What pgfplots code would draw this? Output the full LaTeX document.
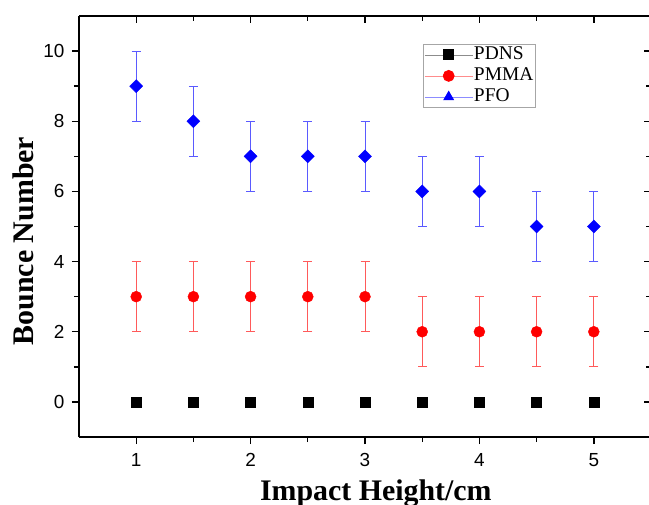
\documentclass[border=0pt]{standalone}
\usepackage{pgfplots}
\pgfplotsset{compat=1.18}
\usepackage{fontspec}
\setmainfont{Liberation Serif}
\newfontfamily\arial{Liberation Sans}
\definecolor{ebblue}{RGB}{90,90,255}
\definecolor{ebred}{RGB}{255,90,90}
\begin{document}
\begin{tikzpicture}
\begin{axis}[
  at={(0,0)}, anchor=south west,
  scale only axis, width=572bp, height=421bp,
  xmin=0.5, xmax=5.5, ymin=-1, ymax=11,
  xtick={1,2,3,4,5}, minor xtick={1.5,2.5,3.5,4.5},
  ytick={0,2,4,6,8,10}, minor ytick={1,3,5,7,9},
  xtick pos=bottom, ytick pos=left,
  tick align=outside,
  major tick length=7bp, minor tick length=5bp,
  every tick/.style={black, line width=1.4pt},
  axis line style={line width=1.6pt},
  axis x line*=bottom, axis y line*=left,
  xticklabel={\arial\fontsize{19}{21}\selectfont\pgfmathprintnumber[assume math mode=true]{\tick}},
  yticklabel={\arial\fontsize{19}{21}\selectfont\pgfmathprintnumber[assume math mode=true]{\tick}},
  xticklabel style={yshift=-6bp},
  yticklabel style={xshift=-4bp},
  xlabel={\bfseries Impact Height/cm}, ylabel={\bfseries Bounce Number},
  label style={font=\fontsize{30}{32}\selectfont},
  xlabel style={at={(axis description cs:0.519,0)}, anchor=base, yshift=-63bp},
  ylabel style={at={(axis description cs:-0.0804,0.4656)}, anchor=base, rotate=0},
  legend style={at={(axis description cs:0.6014,0.9335)}, anchor=north west,
    draw=gray!70, line width=0.8pt, font=\fontsize{19.5}{21}\selectfont, row sep=2bp,
    inner sep=1bp,
    nodes={inner sep=1bp, text height=13bp, text depth=4bp, line width=0.6pt}},
  legend cell align=left,
  legend image code/.code={\draw[#1, line width=0.6pt, opacity=0.45] (0bp,0bp) -- (48bp,0bp);
     \draw[#1, mark repeat=2, mark phase=2] plot coordinates {(0bp,0bp) (24bp,0bp) (48bp,0bp)};},
]
\addplot[only marks, mark=square*, mark size=5bp, black] coordinates {
(1,0) (1.5,0) (2,0) (2.5,0) (3,0) (3.5,0) (4,0) (4.5,0) (5,0)};
\addlegendentry{PDNS}
\addplot[only marks, mark=*, mark size=5.5bp, red,
  error bars/error bar style={draw=ebred, line width=0.9pt},
  error bars/error mark options={rotate=90, mark size=4.5bp, draw=ebred, line width=0.9pt},
  error bars/y dir=both, error bars/y explicit]
  coordinates {
(1,3) +- (0,1) (1.5,3) +- (0,1) (2,3) +- (0,1) (2.5,3) +- (0,1) (3,3) +- (0,1)
(3.5,2) +- (0,1) (4,2) +- (0,1) (4.5,2) +- (0,1) (5,2) +- (0,1)};
\addlegendentry{PMMA}
\addplot[forget plot, only marks, mark=square*, mark size=4.6bp, mark options={rotate=45}, blue,
  error bars/error bar style={draw=ebblue, line width=0.9pt},
  error bars/error mark options={rotate=90, mark size=4.5bp, draw=ebblue, line width=0.9pt},
  error bars/y dir=both, error bars/y explicit]
  coordinates {
(1,9) +- (0,1) (1.5,8) +- (0,1) (2,7) +- (0,1) (2.5,7) +- (0,1) (3,7) +- (0,1)
(3.5,6) +- (0,1) (4,6) +- (0,1) (4.5,5) +- (0,1) (5,5) +- (0,1)};
\addlegendimage{only marks, mark=triangle*, mark size=5.5bp, blue}
\addlegendentry{PFO}
\end{axis}
\begin{axis}[
  at={(0,0)}, anchor=south west,
  scale only axis, width=572bp, height=421bp,
  xmin=0.5, xmax=5.5, ymin=-1, ymax=11,
  xtick={1,2,3,4,5}, minor xtick={1.5,2.5,3.5,4.5},
  ytick={0,2,4,6,8,10}, minor ytick={1,3,5,7,9},
  axis x line*=top, axis y line*=right,
  tick align=inside, xticklabels={}, yticklabels={},
  major tick length=7bp, minor tick length=5bp,
  every tick/.style={black, line width=1.4pt},
  axis line style={line width=1.6pt},
]
\end{axis}
\pgfresetboundingbox
\path[use as bounding box] (-79bp,-68bp) rectangle (570bp,437bp);
\end{tikzpicture}
\end{document}
